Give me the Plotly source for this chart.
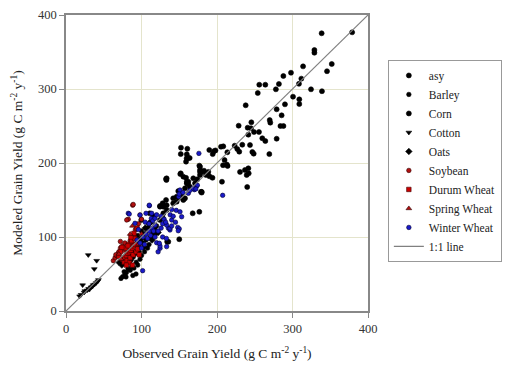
import plotly.graph_objects as go

# ---- data ----
corn_x = [338.6, 379, 329, 329, 352, 345.7, 314, 298, 287.9, 311.7, 308.6, 282, 278, 256, 264, 254, 324.5, 339,
          300.7, 309, 309, 290, 279, 285.6, 238, 269.8, 270.6, 284, 288, 245.5, 228.7, 240.6, 245, 241.5, 249,
          255.6, 260, 264, 279, 269.3, 243.7, 233.5, 223.4, 226.9, 229.5, 246.8, 248.6, 213.7, 205.3, 208.3, 196,
          198, 189.8, 194.3, 152.3, 160.7, 152, 160, 159.8, 162, 163.8, 159, 230.5, 237, 241.5, 242, 239.3, 240,
          132.5, 151.4, 159, 160.7, 176.6, 177.5, 190, 194, 182.8, 206.6, 178.8, 210, 213, 214, 208, 177.5, 179.7,
          177.5, 168.6, 174, 170.9, 133.3, 152, 155.4, 160, 179.7, 142, 146.6]
corn_y = [375.3, 376.6, 352.7, 349, 333.8, 324, 330.6, 322, 317.6, 314, 307, 306.8, 299.6, 305.8, 305.8, 294.6, 299.6,
          297, 289.6, 286, 279.7, 279.3, 272.6, 264.4, 278, 258, 254.5, 250, 250, 255, 250.4, 247.7, 246.9, 238.3,
          241.9, 241.9, 233.4, 229.7, 232.8, 212, 224.3, 224.7, 223.4, 218.9, 215.3, 214.9, 212.6, 214.5, 222,
          222.5, 216, 217, 217.6, 212, 220.7, 219.3, 212, 211.8, 206.3, 206.8, 206.8, 201.8, 188, 190.5, 192.8,
          186, 183.8, 167.6, 178.4, 185, 180, 172.5, 196.4, 190.5, 182, 180, 189.6, 174.7, 161, 204, 198, 196, 197,
          195, 188, 183.8, 179.3, 178, 172.6, 179.3, 186, 181.5, 172.6, 161, 152.3, 154.5]

asy_x = [132.5, 128, 124.5, 133.3, 128.9, 124.5, 128.9, 133.3, 153, 155.4, 157.6, 146.6, 142, 162, 164, 157.6, 177.5,
         185.4, 188.5, 167.8, 176.6, 150, 134, 135.5, 124.5, 128, 99.7, 111, 148.7, 152, 150, 179.7, 133, 160, 161.6,
         116, 112, 108, 104]
asy_y = [150, 145.5, 141, 136.5, 132, 142, 141, 143, 156.8, 150, 152.3, 147.7, 145.5, 174.7, 168, 165.8, 188, 183.8,
         188, 132, 134, 97, 93.6, 93.6, 123, 126, 123, 132, 162, 158, 153, 160, 177, 174.7, 171.6,
         128, 120, 112, 104]

barley_x = [75, 78, 92.7, 88.5, 79.5, 72.8, 87, 85, 80, 90, 95, 82, 77, 93, 98, 100, 104, 108, 110, 96, 90, 86, 112,
            115, 106, 102, 118, 120, 95, 100]
barley_y = [46.4, 48.6, 50, 48, 46, 44, 60, 55, 52, 58, 62, 57, 53, 66, 70, 75, 80, 85, 90, 88, 80, 75, 100, 105,
            96, 92, 110, 115, 102, 108]

cotton_x = [29.5, 40.6, 37.5, 22, 30, 35, 38, 25, 42, 20, 33, 40, 28, 36, 43, 18, 31, 24]
cotton_y = [75.7, 68, 56.8, 35, 30, 33, 36, 27, 40, 22, 32, 38, 28, 35, 42, 20, 29, 25]

oats_x = [85, 88, 92, 80, 84, 97, 103, 114, 118, 122, 110, 105, 100, 92, 74, 70, 96]
oats_y = [68, 72, 78, 70, 82, 95, 86, 96, 104, 106, 118, 112, 98, 90, 62, 66, 80]

soy_x = [88.3, 89, 82.5, 98, 80.4, 100, 62.7, 65, 67, 69.3, 70, 72, 75, 78, 85, 90, 92, 76, 82, 86, 66, 72, 96]
soy_y = [143, 144, 124, 129.7, 123, 124, 68, 72, 75, 78, 80, 85, 88, 92, 95, 100, 110, 82, 86, 92, 76, 94, 118]

durum_x = [75, 78, 80, 82, 84, 86, 88, 90, 92, 79, 83, 87, 91, 77, 81, 85, 89, 93, 95, 72, 70, 84, 88, 80, 86, 90,
           94, 82, 74, 97]
durum_y = [70, 72, 75, 78, 80, 82, 85, 88, 90, 85, 90, 95, 98, 66, 68, 72, 76, 80, 84, 80, 74, 65, 62, 62, 100, 105,
           112, 88, 86, 76]

spring_x = [70, 73, 96, 100, 85, 88]
spring_y = [77, 70, 90, 104, 104, 115]

winter_x = [173, 170, 140, 146, 110.4, 82.5, 106, 105, 110, 113, 115, 135.5, 137.7, 148, 150, 120, 124.5, 122, 101.5,
            174, 167.8, 162, 151, 149.3, 151, 153.2, 140, 137.7, 133.3, 148.7, 117.9, 113.5, 110.3, 83.8, 91.4, 98,
            124.5, 123.6, 133.3, 176, 207.5, 172, 164, 150, 155, 102, 106, 110, 114, 118, 108, 112, 116, 104, 98, 100,
            94, 96, 120, 126, 130, 128, 132, 126, 122, 118, 138, 142, 128, 133, 140, 145]
winter_y = [169, 164, 137, 136, 142.3, 132, 132, 120, 118, 125, 122, 112, 109.5, 113, 111, 92.3, 84.7, 80, 54.5, 170,
            165.8, 159, 163.5, 154.5, 134, 127.4, 123, 111.7, 116.2, 108.5, 125.3, 132, 143, 131, 118.5, 129.7, 87.8,
            91.5, 87, 213, 156.3, 165, 163, 158, 160, 100, 104, 108, 112, 116, 98, 102, 108, 90, 92, 85, 96, 110, 130,
            128, 124, 118, 120, 112, 108, 100, 130, 128, 100, 98, 115, 120]

line_x = [0, 400]
line_y = [0, 400]

FONT = "Liberation Serif"

fig = go.Figure()

def add(name, x, y, color, symbol, size=5, edge=None):
    fig.add_trace(go.Scatter(
        x=x, y=y, mode="markers", name=name,
        marker=dict(color=color, symbol=symbol, size=size,
                    line=dict(color=edge or color, width=0.6)),
    ))

add("asy", asy_x, asy_y, "#000000", "circle")
add("Barley", barley_x, barley_y, "#000000", "circle", size=4.5)
add("Corn", corn_x, corn_y, "#000000", "circle")
add("Cotton", cotton_x, cotton_y, "#000000", "triangle-down")
add("Oats", oats_x, oats_y, "#000000", "diamond")
add("Soybean", soy_x, soy_y, "#b01010", "circle", size=4.5, edge="#300000")
add("Durum Wheat", durum_x, durum_y, "#cc0000", "square", size=4.5, edge="#400000")
add("Spring Wheat", spring_x, spring_y, "#b01010", "triangle-up", edge="#300000")
add("Winter Wheat", winter_x, winter_y, "#1a1ac8", "circle", size=4.5, edge="#000030")

fig.add_trace(go.Scatter(x=line_x, y=line_y, mode="lines", name="1:1 line",
                         line=dict(color="#808080", width=1.2)))

axis_common = dict(
    range=[0, 400], dtick=100, showgrid=True, gridcolor="#e4e4cc", gridwidth=1,
    showline=True, linecolor="#888888", linewidth=1.5, mirror=True,
    ticks="outside", ticklen=5, tickcolor="#888888", zeroline=False,
    tickfont=dict(family=FONT, size=12.5, color="#333333"), automargin=False,
)

fig.update_layout(
    width=507, height=370,
    margin=dict(l=66, r=139, t=15, b=59, autoexpand=False),
    paper_bgcolor="white", plot_bgcolor="white",
    font=dict(family=FONT, size=12, color="#333333"),
    xaxis=dict(**axis_common,
               title=dict(text="Observed Grain Yield (g C m<sup>-2</sup> y<sup>-1</sup>)",
                          font=dict(family=FONT, size=13.5, color="#222222"), standoff=14)),
    yaxis=dict(**axis_common,
               title=dict(text="Modeled Grain Yield (g C m<sup>-2</sup> y<sup>-1</sup>)",
                          font=dict(family=FONT, size=13.5, color="#222222"), standoff=12)),
    legend=dict(xref="container", yref="container", x=0.765, y=0.565,
                xanchor="left", yanchor="middle", maxheight=340,
                bordercolor="#999999", borderwidth=1, bgcolor="white",
                font=dict(family=FONT, size=11.5, color="#222222"),
                tracegroupgap=0, itemwidth=30),
    showlegend=True,
)

fig.write_html("out.html", config={"displayModeBar": False},
               post_script="document.body.style.margin='0';document.body.style.padding='0';")
